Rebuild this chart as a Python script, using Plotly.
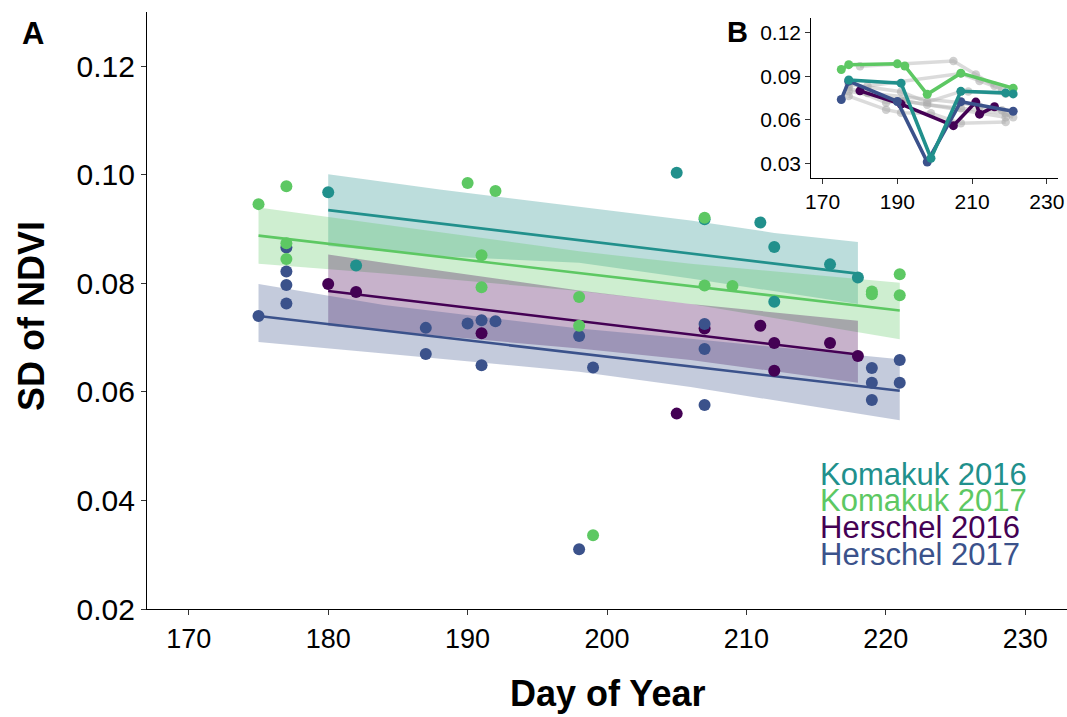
import plotly.graph_objects as go

# ---- observations: day of year and SD of NDVI per site-year ----
kom16_day = [180, 182, 205, 207, 211, 212, 212, 216, 218]
kom16_sd = [0.0968, 0.0833, 0.1004, 0.0918, 0.0912, 0.0867, 0.0766, 0.0835, 0.0811]

kom17_day = [175, 177, 177, 177, 190, 192, 191, 191, 198, 198, 199, 207, 207, 209, 219, 219, 221, 221]
kom17_sd = [0.0946, 0.0979, 0.0874, 0.0845, 0.0985, 0.0970, 0.0852, 0.0793, 0.0775, 0.0722,
            0.0336, 0.0921, 0.0796, 0.0795, 0.0785, 0.0780, 0.0817, 0.0778]

her16_day = [180, 182, 191, 205, 207, 211, 212, 212, 216, 218]
her16_sd = [0.0799, 0.0784, 0.0708, 0.0560, 0.0717, 0.0722, 0.0690, 0.0639, 0.0690, 0.0666]

her17_day = [175, 177, 177, 177, 177, 187, 187, 190, 191, 192, 191, 198, 199, 198, 207, 207, 207,
             219, 219, 219, 221, 221]
her17_sd = [0.0740, 0.0866, 0.0822, 0.0797, 0.0763, 0.0718, 0.0670, 0.0726, 0.0732, 0.0730, 0.0649,
            0.0703, 0.0645, 0.0310, 0.0725, 0.0679, 0.0576, 0.0644, 0.0617, 0.0585, 0.0659, 0.0617]

# ---- fitted trends and confidence bands ----
kom16_fit_day = [180, 218]
kom16_fit = [0.0935, 0.0818]
kom16_band_day = [180, 188, 198, 206, 212, 218]
kom16_upper = [0.1001, 0.0973, 0.0941, 0.0916, 0.0893, 0.0876]
kom16_lower = [0.0869, 0.0850, 0.0838, 0.0809, 0.0785, 0.0762]

kom17_fit_day = [175, 221]
kom17_fit = [0.0888, 0.0750]
kom17_band_day = [175, 184, 198, 206, 221]
kom17_upper = [0.0940, 0.0908, 0.0859, 0.0836, 0.0801]
kom17_lower = [0.0836, 0.0818, 0.0786, 0.0762, 0.0697]

her16_fit_day = [180, 218]
her16_fit = [0.0786, 0.0669]
her16_band_day = [180, 184, 198, 206, 218]
her16_upper = [0.0853, 0.0838, 0.0787, 0.0762, 0.0731]
her16_lower = [0.0722, 0.0712, 0.0680, 0.0659, 0.0617]

her17_fit_day = [175, 221]
her17_fit = [0.0740, 0.0602]
her17_band_day = [175, 184, 198, 206, 221]
her17_upper = [0.0799, 0.0760, 0.0717, 0.0698, 0.0660]
her17_lower = [0.0692, 0.0671, 0.0637, 0.0609, 0.0548]

# ---- inset: individual plot trajectories ----
grey_paths = [
    ([180, 205, 211, 216], [0.0968, 0.1004, 0.0912, 0.0835]),
    ([182, 207, 212, 218], [0.0833, 0.0918, 0.0867, 0.0811]),
    ([177, 191, 198, 207, 209, 219], [0.0845, 0.0793, 0.0722, 0.0795, 0.0795, 0.0780]),
    ([177, 187, 191, 198, 207, 219, 221], [0.0822, 0.0718, 0.0732, 0.0703, 0.0679, 0.0644, 0.0617]),
    ([177, 187, 191, 199, 207, 219], [0.0763, 0.0670, 0.0649, 0.0645, 0.0576, 0.0585]),
    ([177, 192, 219], [0.0797, 0.0730, 0.0617]),
    ([182, 207, 212, 218], [0.0784, 0.0717, 0.0690, 0.0666]),
]
inset_green_day = [175, 177, 190, 192, 198, 207, 221]
inset_green_sd = [0.0946, 0.0979, 0.0985, 0.0970, 0.0775, 0.0921, 0.0817]
inset_teal_day = [177, 191, 199, 207, 219, 221]
inset_teal_sd = [0.0874, 0.0852, 0.0336, 0.0796, 0.0785, 0.0778]
inset_blue_day = [175, 177, 190, 198, 207, 221]
inset_blue_sd = [0.0740, 0.0866, 0.0726, 0.0310, 0.0725, 0.0659]
inset_purple_day = [180, 191, 205, 211, 212, 216]
inset_purple_sd = [0.0799, 0.0708, 0.0560, 0.0722, 0.0639, 0.0690]

legend_labels = ["Komakuk 2016", "Komakuk 2017", "Herschel 2016", "Herschel 2017"]

# ---- styling ----
TEAL = "#21908C"
GREEN = "#5DC863"
PURPLE = "#440154"
BLUE = "#3B528B"


def rgba(hex_color, a):
    h = hex_color.lstrip("#")
    r, g, b = int(h[0:2], 16), int(h[2:4], 16), int(h[4:6], 16)
    return f"rgba({r},{g},{b},{a})"


FONT = "Liberation Sans, Arial, sans-serif"
NARROW = "Liberation Sans Narrow, Arial Narrow, Liberation Sans, Arial, sans-serif"

fig = go.Figure()

groups = [
    (kom16_band_day, kom16_upper, kom16_lower, kom16_fit_day, kom16_fit, kom16_day, kom16_sd, TEAL),
    (kom17_band_day, kom17_upper, kom17_lower, kom17_fit_day, kom17_fit, kom17_day, kom17_sd, GREEN),
    (her16_band_day, her16_upper, her16_lower, her16_fit_day, her16_fit, her16_day, her16_sd, PURPLE),
    (her17_band_day, her17_upper, her17_lower, her17_fit_day, her17_fit, her17_day, her17_sd, BLUE),
]

# confidence bands
for bd, up, lo, fd, fv, d, v, c in groups:
    fig.add_trace(go.Scatter(
        x=list(bd) + list(bd)[::-1], y=list(up) + list(lo)[::-1],
        fill="toself", fillcolor=rgba(c, 0.3), line=dict(width=0),
        mode="lines", hoverinfo="skip", showlegend=False, xaxis="x", yaxis="y"))

# trend lines
for bd, up, lo, fd, fv, d, v, c in groups:
    fig.add_trace(go.Scatter(
        x=fd, y=fv, mode="lines", line=dict(color=c, width=2.6),
        showlegend=False, xaxis="x", yaxis="y"))

# observations (drawn so the lighter series sit on top)
for idx in (2, 0, 3, 1):
    bd, up, lo, fd, fv, d, v, c = groups[idx]
    fig.add_trace(go.Scatter(
        x=d, y=v, mode="markers", marker=dict(color=c, size=12, line=dict(width=0)),
        showlegend=False, xaxis="x", yaxis="y"))

# inset: grey background trajectories
for gd, gv in grey_paths:
    fig.add_trace(go.Scatter(
        x=gd, y=gv, mode="lines+markers",
        line=dict(color="rgba(175,175,175,0.45)", width=3.5),
        marker=dict(color="rgba(170,170,170,0.55)", size=8.5),
        showlegend=False, xaxis="x2", yaxis="y2"))

# inset: highlighted trajectories
for d, v, c in [(inset_purple_day, inset_purple_sd, PURPLE),
                (inset_blue_day, inset_blue_sd, BLUE),
                (inset_green_day, inset_green_sd, GREEN),
                (inset_teal_day, inset_teal_sd, TEAL)]:
    fig.add_trace(go.Scatter(
        x=d, y=v, mode="lines+markers", line=dict(color=c, width=3.6),
        marker=dict(color=c, size=9), showlegend=False, xaxis="x2", yaxis="y2"))

axis_common = dict(showgrid=False, zeroline=False, showline=True, linecolor="#000000",
                   linewidth=1.3, ticks="outside", tickcolor="#333333", ticklen=5, tickwidth=1.2,
                   automargin=False)

W, H = 1067, 717
L, R, T, B = 147, 0, 12, 108
pw, ph = W - L - R, H - T - B


def px_x(x):
    return (x - L) / pw


def px_y(y):
    return (H - B - y) / ph


fig.update_layout(
    width=W, height=H,
    margin=dict(l=L, r=R, t=T, b=B, autoexpand=False),
    paper_bgcolor="white", plot_bgcolor="white",
    xaxis=dict(domain=[0, 1], range=[167, 233], tickvals=[170, 180, 190, 200, 210, 220, 230],
               tickfont=dict(family=FONT, size=27, color="black"), anchor="y", **axis_common),
    yaxis=dict(domain=[0, 1], range=[0.02, 0.13],
               tickvals=[0.02, 0.04, 0.06, 0.08, 0.10, 0.12],
               ticktext=["0.02", "0.04", "0.06", "0.08", "0.10", "0.12"],
               tickfont=dict(family=FONT, size=30, color="black"), anchor="x", **axis_common),
    xaxis2=dict(domain=[px_x(811.4), px_x(1058)], range=[167, 233], tickvals=[170, 190, 210, 230],
                tickfont=dict(family=FONT, size=21, color="black"), anchor="y2", **axis_common),
    yaxis2=dict(domain=[px_y(178), px_y(18)], range=[0.02, 0.13],
                tickvals=[0.03, 0.06, 0.09, 0.12], ticktext=["0.03", "0.06", "0.09", "0.12"],
                tickfont=dict(family=FONT, size=21, color="black"), anchor="x2", **axis_common),
)

annotations = [
    dict(text="<b>SD of NDVI</b>", x=px_x(31), y=px_y(316), textangle=-90,
         font=dict(family=NARROW, size=36, color="black")),
    dict(text="<b>Day of Year</b>", x=px_x(607), y=px_y(693),
         font=dict(family=NARROW, size=36, color="black")),
    dict(text="<b>A</b>", x=px_x(33), y=px_y(33), font=dict(family=FONT, size=31, color="black")),
    dict(text="<b>B</b>", x=px_x(737), y=px_y(32), font=dict(family=FONT, size=29, color="black")),
]
legend_y = [474, 500, 527, 554]
legend_colors = [TEAL, GREEN, PURPLE, BLUE]
for lab, ly, lc in zip(legend_labels, legend_y, legend_colors):
    annotations.append(dict(text=lab, x=px_x(818), y=px_y(ly), xanchor="left",
                            font=dict(family=FONT, size=31, color=lc)))

for a in annotations:
    a.setdefault("xanchor", "center")
    a.update(xref="paper", yref="paper", yanchor="middle", showarrow=False)

fig.update_layout(annotations=annotations)

fig.write_html("out.html")
